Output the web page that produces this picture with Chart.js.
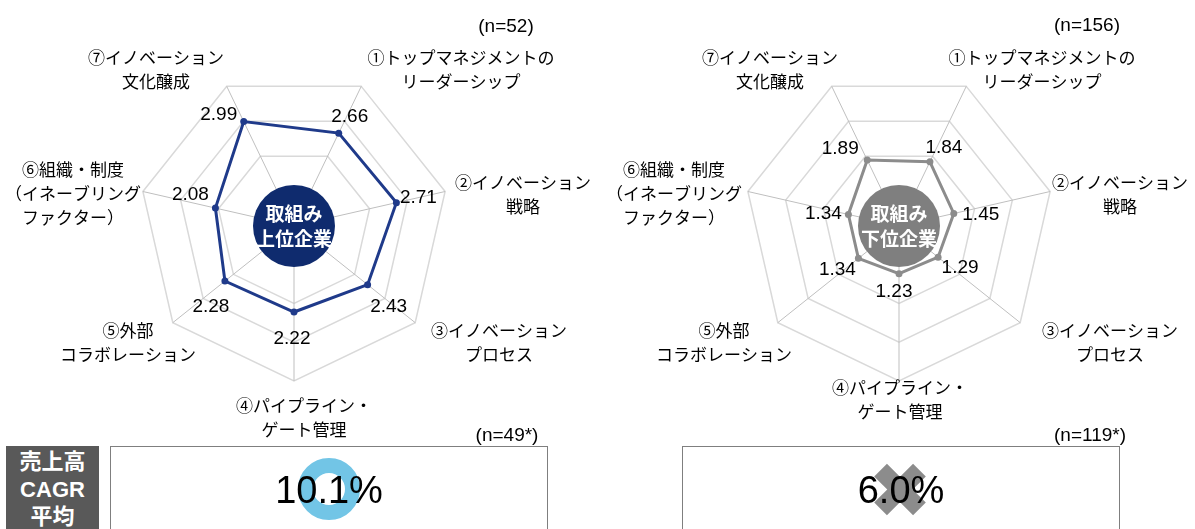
<!DOCTYPE html>
<html>
<head>
<meta charset="utf-8">
<script src="https://cdn.jsdelivr.net/npm/chart.js@4.4.1/dist/chart.umd.min.js"></script>
<style>
    body {
        margin: 0;
        width: 1195px;
        height: 529px;
        overflow: hidden;
        background: #fff;
        position: relative;
        font-family: "Liberation Sans", "Noto Sans CJK JP", sans-serif;
        color: #000;
    }
    canvas.layer { position: absolute; left: 0; top: 0; }
    .txt {
        position: absolute;
        white-space: nowrap;
        transform: translate(-50%, -50%);
        text-align: center;
    }
    .nlabel { font-size: 19px; line-height: 19px; }
    .sideBox {
        position: absolute;
        left: 6px; top: 446px; width: 93px; height: 100px;
        background: #595959;
        color: #fff;
        font-weight: bold;
        font-size: 22px;
        line-height: 27.5px;
        text-align: center;
        padding-top: 2px;
        box-sizing: border-box;
    }
    .cagrBox {
        position: absolute;
        top: 446px; width: 438px; height: 100px;
        border: 1px solid #7f7f7f;
        box-sizing: border-box;
    }
    .cagrValue {
        position: absolute;
        left: 0; right: 0; top: 24px;
        text-align: center;
        font-size: 38px;
        line-height: 38px;
    }
    /* 良好マーク（ドーナツ） */
    .ring {
        position: absolute;
        left: 187px; top: 11px;
        width: 62px; height: 62px;
        box-sizing: border-box;
        border: 15px solid #72c5e6;
        border-radius: 50%;
    }
    /* バツ印 */
    .cross {
        position: absolute;
        left: 208px; top: 14.5px;
        width: 18px; height: 55px;
        background: #8c8c8c;
    }
    .cross.a { transform: rotate(45deg); }
    .cross.b { transform: rotate(-45deg); }
</style>
</head>
<body>
<canvas id="radarTop" class="layer" width="1195" height="529"></canvas>
<canvas id="radarBottom" class="layer" width="1195" height="529"></canvas>

<div class="txt nlabel" id="nTop" style="left:506px; top:25px;"></div>
<div class="txt nlabel" id="nBottom" style="left:1087px; top:24px;"></div>
<div class="txt nlabel" id="nCagrTop" style="left:507px; top:434px;"></div>
<div class="txt nlabel" id="nCagrBottom" style="left:1090px; top:434px;"></div>

<div class="sideBox" id="sideBox"></div>

<div class="cagrBox" style="left:110px;">
    <div class="ring"></div>
    <div class="cagrValue" id="cagrTop"></div>
</div>
<div class="cagrBox" style="left:682px;">
    <div class="cross a"></div>
    <div class="cross b"></div>
    <div class="cagrValue" id="cagrBottom"></div>
</div>

<script>
// 軸ラベル
const axisLabels = [
    ['①トップマネジメントの', 'リーダーシップ'],
    ['②イノベーション', '戦略'],
    ['③イノベーション', 'プロセス'],
    ['④パイプライン・', 'ゲート管理'],
    ['⑤外部', 'コラボレーション'],
    ['⑥組織・制度', '（イネーブリング', 'ファクター）'],
    ['⑦イノベーション', '文化醸成']
];
// スコア
const topScores = [2.66, 2.71, 2.43, 2.22, 2.28, 2.08, 2.99];
const bottomScores = [1.84, 1.45, 1.29, 1.23, 1.34, 1.34, 1.89];
const groupNames = [['取組み', '上位企業'], ['取組み', '下位企業']];
const sampleSizes = ['(n=52)', '(n=156)'];
// 売上高CAGR
const cagrLabel = ['売上高', 'CAGR', '平均'];
const cagrValues = [10.1, 6.0];
const cagrSampleSizes = ['(n=49*)', '(n=119*)'];

// 中央の円・ラベル類を描くプラグイン
const radarDecor = {
    id: 'radarDecor',
    afterDatasetsDraw(chart, args, opts) {
        const ctx = chart.ctx;
        const scale = chart.scales.r;
        const cx = scale.xCenter;
        const cy = scale.yCenter;
        ctx.save();
        ctx.textAlign = 'center';
        ctx.textBaseline = 'middle';

        // 中央の円
        ctx.fillStyle = opts.circleColor;
        ctx.beginPath();
        ctx.arc(cx, cy, 41, 0, Math.PI * 2);
        ctx.fill();
        ctx.fillStyle = '#fff';
        ctx.font = 'bold 19px "Noto Sans CJK JP"';
        opts.name.forEach((t, i) => ctx.fillText(t, cx, cy - 12 + i * 25));

        // 軸ラベル
        ctx.fillStyle = '#000';
        ctx.font = '17px "Noto Sans CJK JP"';
        axisLabels.forEach((lines, i) => {
            const [dx, dy] = opts.labelPos[i];
            lines.forEach((t, j) => {
                ctx.fillText(t, cx + dx, cy + dy + (j - (lines.length - 1) / 2) * 24);
            });
        });

        // 値ラベル
        ctx.font = '19px "Liberation Sans"';
        const values = chart.data.datasets[0].data;
        chart.getDatasetMeta(0).data.forEach((pt, i) => {
            const [dx, dy] = opts.valueOffset[i];
            ctx.fillText(values[i].toFixed(2), pt.x + dx, pt.y + dy);
        });
        ctx.restore();
    }
};

function createRadar(canvasId, scores, color, decor, padding) {
    const ctx = document.getElementById(canvasId).getContext('2d');
    return new Chart(ctx, {
        type: 'radar',
        data: {
            labels: axisLabels.map(l => l.join('')),
            datasets: [{
                data: scores,
                borderColor: color,
                borderWidth: 3,
                pointRadius: 3.5,
                pointBackgroundColor: color,
                pointBorderWidth: 0,
                fill: false
            }]
        },
        options: {
            responsive: false,
            animation: false,
            layout: { padding: padding },
            plugins: {
                legend: { display: false },
                tooltip: { enabled: false },
                radarDecor: decor
            },
            scales: {
                r: {
                    min: 0,
                    max: 4,
                    startAngle: 180 / 7,
                    ticks: { display: false, stepSize: 1 },
                    pointLabels: { display: false },
                    grid: { color: '#d9d9d9', lineWidth: 1.5 },
                    angleLines: { color: '#bfbfbf', lineWidth: 1 }
                }
            }
        },
        plugins: [radarDecor]
    });
}

createRadar('radarTop', topScores, '#1f3a8a', {
    circleColor: '#0f2b6e',
    name: groupNames[0],
    labelPos: [[167, -156], [229, -31], [205, 117], [10, 192], [-166, 117], [-221, -32], [-138, -156]],
    valueOffset: [[11, -16], [22, -5], [21, 22], [-2, 27], [-14, 26], [-25, -13], [-25, -7]]
}, { left: 139, right: 746, top: 71, bottom: 148 });

createRadar('radarBottom', bottomScores, '#8c8c8c', {
    circleColor: '#7f7f7f',
    name: groupNames[1],
    labelPos: [[143, -156], [221, -31], [211, 117], [1, 174], [-175, 117], [-225, -32], [-129, -156]],
    valueOffset: [[14, -14], [27, 1], [22, 11], [-5, 18], [-21, 11], [-25, -1], [-27, -11]]
}, { left: 744, right: 141, top: 71, bottom: 148 });

document.getElementById('nTop').innerText = sampleSizes[0];
document.getElementById('nBottom').innerText = sampleSizes[1];
document.getElementById('nCagrTop').innerText = cagrSampleSizes[0];
document.getElementById('nCagrBottom').innerText = cagrSampleSizes[1];
document.getElementById('sideBox').innerHTML = cagrLabel.join('<br>');
document.getElementById('cagrTop').innerText = cagrValues[0].toFixed(1) + '%';
document.getElementById('cagrBottom').innerText = cagrValues[1].toFixed(1) + '%';
</script>
</body>
</html>
